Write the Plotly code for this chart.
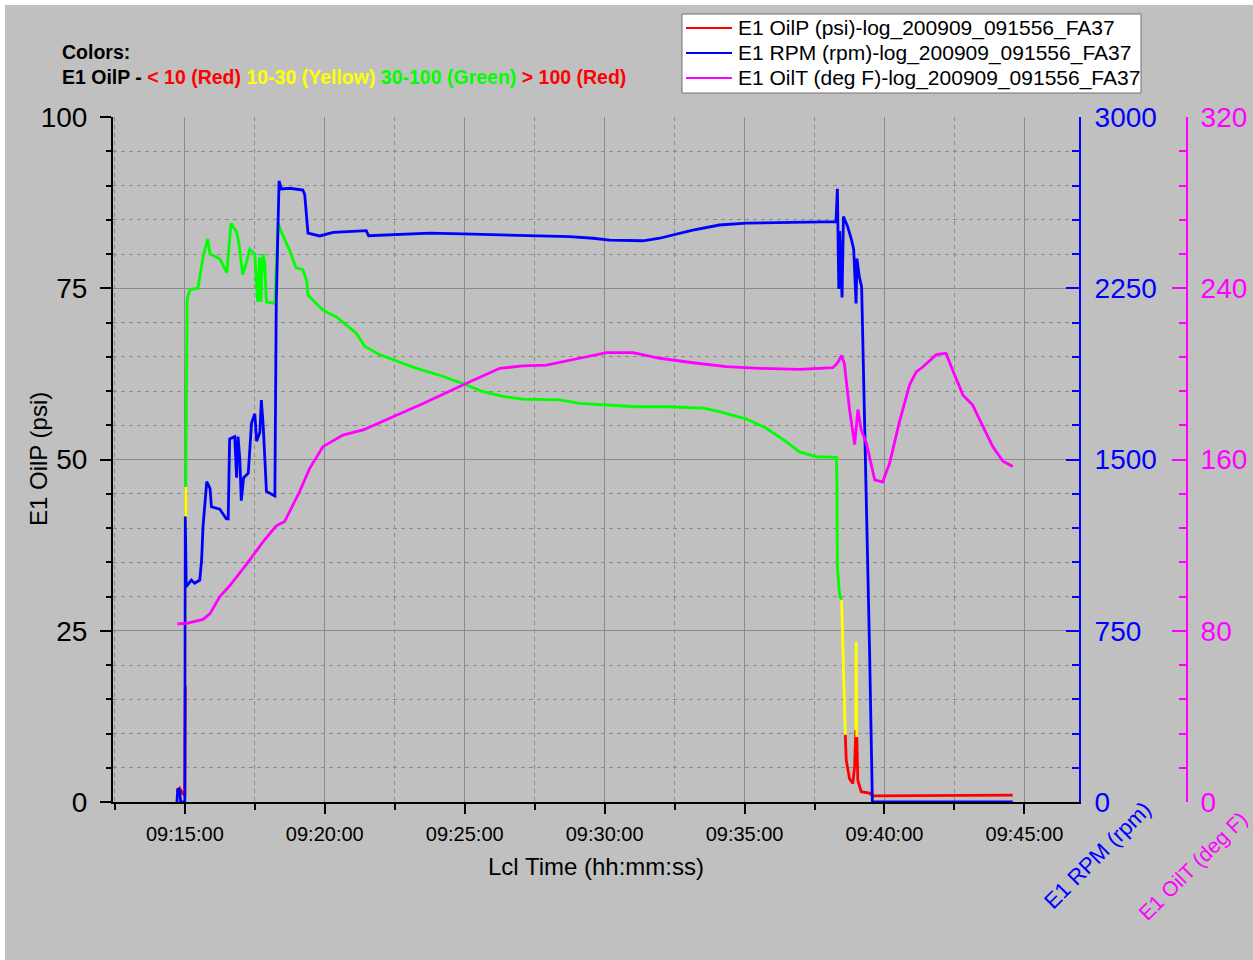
import plotly.graph_objects as go

DATE = "2020-09-09 "

# ---------------- data ----------------
oilp_time = ["09:14:43", "09:14:49", "09:14:56", "09:15:00", "09:15:01", "09:15:02", "09:15:05", "09:15:11",
             "09:15:28", "09:15:39", "09:15:49", "09:15:54", "09:16:15", "09:16:30", "09:16:39", "09:16:51",
             "09:16:56", "09:17:04", "09:17:11", "09:17:19", "09:17:30", "09:17:36", "09:17:40", "09:17:43",
             "09:17:47", "09:17:51", "09:17:55", "09:18:13", "09:18:20", "09:18:27", "09:18:45", "09:18:58",
             "09:19:13", "09:19:21", "09:19:24", "09:19:56", "09:20:25", "09:21:08", "09:21:26", "09:21:58",
             "09:22:34", "09:23:17", "09:24:06", "09:24:56", "09:25:39", "09:26:22", "09:27:05", "09:28:24",
             "09:29:06", "09:30:04", "09:31:08", "09:32:19", "09:33:31", "09:34:06", "09:35:04", "09:35:46",
             "09:36:29", "09:36:58", "09:37:34", "09:38:17", "09:38:18", "09:38:19", "09:38:24", "09:38:28",
             "09:38:36", "09:38:38", "09:38:45", "09:38:52", "09:38:56", "09:38:58", "09:38:58.5", "09:38:59.4",
             "09:39:00.6", "09:39:02.8", "09:39:10", "09:39:28", "09:39:35", "09:42:34", "09:42:48", "09:44:35"]
oilp_psi = [1.5, 2.0, 1.2, 1.0, 17.0, 46.0, 73.5, 74.8, 75.0,
            79.5, 82.2, 80.0, 79.3, 77.3, 84.5, 83.2, 81.5, 77.0, 78.5,
            80.7, 80.0, 73.0, 79.5, 73.0, 80.0, 79.0, 73.0, 72.8, 84.5,
            83.2, 80.5, 78.0, 77.7, 76.2, 74.0, 71.8, 70.8, 68.4, 66.5,
            65.3, 64.4, 63.3, 62.3, 61.1, 59.9, 59.2, 58.8, 58.7, 58.2,
            58.0, 57.7, 57.7, 57.5, 57.0, 55.9, 54.6, 52.6, 51.1, 50.4,
            50.3, 46.0, 34.3, 30.1, 29.5, 9.8, 6.1, 3.4, 2.7, 5.2,
            8.1, 10.5, 23.4, 9.5, 3.2, 1.5, 1.3, 0.9, 0.9, 1.0, 1.0]

rpm_time = ["09:14:43", "09:14:45", "09:14:49", "09:14:51", "09:15:00", "09:15:01", "09:15:03", "09:15:14",
            "09:15:21", "09:15:32", "09:15:36", "09:15:39", "09:15:47", "09:15:54", "09:15:57", "09:16:15",
            "09:16:29", "09:16:33", "09:16:36", "09:16:47", "09:16:51", "09:16:54", "09:16:58", "09:17:01",
            "09:17:06", "09:17:16", "09:17:23", "09:17:30", "09:17:34", "09:17:41", "09:17:44", "09:17:48",
            "09:17:55", "09:18:13", "09:18:16", "09:18:22", "09:18:27", "09:18:45", "09:19:13", "09:19:17",
            "09:19:24", "09:19:49", "09:20:18", "09:21:29", "09:21:34", "09:22:19", "09:23:45", "09:24:56",
            "09:26:30", "09:28:45", "09:29:35", "09:30:11", "09:31:22", "09:31:58", "09:33:09", "09:34:06",
            "09:35:04", "09:36:44", "09:38:16", "09:38:19", "09:38:21", "09:38:22", "09:38:24", "09:38:29",
            "09:38:32", "09:38:41", "09:38:49", "09:38:54", "09:38:59", "09:39:01", "09:39:06", "09:39:11",
            "09:39:28", "09:39:31", "09:39:34", "09:44:35"]
rpm_val = [0, 60, 50, 0, 0, 1250, 943, 972, 958,
           972, 1060, 1206, 1403, 1374, 1293, 1282, 1240, 1240, 1590,
           1600, 1420, 1600, 1500, 1320, 1420, 1440, 1660, 1700, 1580,
           1620, 1760, 1650, 1360, 1340, 2180, 2720, 2685, 2688, 2680,
           2660, 2491, 2479, 2495, 2502, 2480, 2483, 2491, 2488, 2482,
           2476, 2469, 2461, 2458, 2469, 2505, 2527, 2535, 2539, 2542,
           2686, 2300, 2247, 2500, 2210, 2564, 2520, 2464, 2420, 2183,
           2380, 2300, 2256, 666, 267, 0, 0]

oilt_time = ["09:14:44", "09:15:04", "09:15:39", "09:15:54", "09:16:15", "09:16:36", "09:17:12", "09:17:48",
             "09:18:16", "09:18:34", "09:19:06", "09:19:28", "09:19:56", "09:20:39", "09:21:22", "09:22:19",
             "09:23:31", "09:24:56", "09:26:15", "09:27:05", "09:27:55", "09:29:06", "09:30:04", "09:31:01",
             "09:31:58", "09:33:09", "09:34:21", "09:35:32", "09:36:58", "09:38:09", "09:38:19", "09:38:28",
             "09:38:34", "09:38:45", "09:38:56", "09:39:03", "09:39:10", "09:39:21", "09:39:39", "09:39:56",
             "09:40:11", "09:40:32", "09:40:54", "09:41:08", "09:41:22", "09:41:51", "09:42:12", "09:42:26",
             "09:42:48", "09:43:09", "09:43:31", "09:43:52", "09:44:14", "09:44:35"]
oilt_val = [83.2, 83.5, 85.3, 88.0, 96.0, 101.0, 111.0, 121.6, 129.0, 131.0,
            145.0, 156.0, 166.0, 171.4, 173.8, 179.2, 186.2, 194.8, 202.6, 203.7,
            204.1, 207.3, 209.9, 209.9, 207.3, 205.2, 203.4, 202.6, 202.1, 202.9,
            205.0, 208.6, 204.7, 183.4, 167.0, 183.4, 173.8, 167.9, 150.5, 149.5,
            158.3, 177.6, 195.0, 200.9, 203.2, 209.0, 209.6, 201.8, 190.2, 185.4,
            175.7, 166.0, 159.2, 156.7]

series_names = ["E1 OilP (psi)-log_200909_091556_FA37",
                "E1 RPM (rpm)-log_200909_091556_FA37",
                "E1 OilT (deg F)-log_200909_091556_FA37"]

# ---------------- styling ----------------
RED, YELLOW, GREEN = "#ff0000", "#ffff00", "#00ff00"
BLUE, MAGENTA = "#0000ff", "#ff00ff"
BG = "#c0c0c0"
GRID = "#8a8a8a"
DASH = "4px,4px"
FONT = "Arial, Liberation Sans, sans-serif"
LW = 2.8
series_colors = [RED, BLUE, MAGENTA]


def band(v):
    if v < 10:
        return RED
    if v < 30:
        return YELLOW
    if v <= 100:
        return GREEN
    return RED


# split OilP into colour runs (segment colour taken from its start point)
runs = []
start, cur = 0, band(oilp_psi[0])
for i in range(1, len(oilp_psi) - 1):
    c = band(oilp_psi[i])
    if c != cur:
        runs.append((start, i, cur))
        start, cur = i, c
runs.append((start, len(oilp_psi) - 1, cur))

fig = go.Figure()
for s, e, c in runs:
    fig.add_trace(go.Scatter(
        x=[DATE + t for t in oilp_time[s:e + 1]], y=oilp_psi[s:e + 1],
        mode="lines", line=dict(color=c, width=LW),
        name=series_names[0], showlegend=False, yaxis="y"))

fig.add_trace(go.Scatter(x=[DATE + t for t in rpm_time], y=rpm_val, mode="lines",
                         line=dict(color=BLUE, width=LW), name=series_names[1],
                         showlegend=False, yaxis="y2"))
fig.add_trace(go.Scatter(x=[DATE + t for t in oilt_time], y=oilt_val, mode="lines",
                         line=dict(color=MAGENTA, width=LW), name=series_names[2],
                         showlegend=False, yaxis="y3"))

W, H = 1253, 960
L, R, T, B = 113, 66, 117, 158
PW = W - L - R
PH = H - T - B
xdom = (1079 - L) / PW


def px(xp):
    return (xp - L) / PW


def py(yp):
    return (H - B - yp) / PH


fig.update_layout(
    width=W, height=H, autosize=False,
    margin=dict(l=L, r=R, t=T, b=B, pad=0, autoexpand=False),
    paper_bgcolor=BG, plot_bgcolor=BG,
    font=dict(family=FONT, color="black"),
    showlegend=False,
    xaxis=dict(domain=[0, xdom], type="date", automargin=False,
               range=[DATE + "09:12:26", DATE + "09:46:57"],
               tickformat="%H:%M:%S", dtick=300000, tick0=DATE + "09:15:00",
               ticks="outside", ticklen=10, tickwidth=2, tickcolor="black",
               showline=True, linecolor="black", linewidth=2, zeroline=False,
               showgrid=True, gridcolor=GRID, gridwidth=1,
               minor=dict(dtick=150000, tick0=DATE + "09:15:00", ticks="outside", ticklen=6,
                          tickwidth=2, tickcolor="black", showgrid=True,
                          gridcolor=GRID, griddash=DASH, gridwidth=1),
               tickfont=dict(size=20, color="black"), ticklabelstandoff=3,
               title=dict(text="Lcl Time (hh:mm:ss)", font=dict(size=24, color="black"), standoff=14)),
    yaxis=dict(range=[0, 100], dtick=25, tick0=0, automargin=False,
               ticks="outside", ticklen=11, tickwidth=2, tickcolor="black",
               showline=True, linecolor="black", linewidth=2, zeroline=False,
               showgrid=True, gridcolor=GRID, gridwidth=1,
               minor=dict(dtick=5, ticks="outside", ticklen=5, tickwidth=2, tickcolor="black",
                          showgrid=True, gridcolor=GRID, griddash=DASH, gridwidth=1),
               tickfont=dict(size=28, color="black"), ticklabelstandoff=7),
    yaxis2=dict(range=[0, 3000], overlaying="y", side="right", anchor="x", automargin=False,
                dtick=750, tick0=0, ticks="inside", ticklen=13, tickwidth=2, tickcolor=BLUE,
                showline=True, linecolor=BLUE, linewidth=2, zeroline=False, showgrid=False,
                minor=dict(dtick=150, ticks="inside", ticklen=7, tickwidth=2, tickcolor=BLUE),
                tickfont=dict(size=28, color=BLUE), ticklabelstandoff=8),
    yaxis3=dict(range=[0, 320], overlaying="y", side="right", anchor="free", position=1.0,
                automargin=False,
                dtick=80, tick0=0, ticks="inside", ticklen=14, tickwidth=2, tickcolor=MAGENTA,
                showline=True, linecolor=MAGENTA, linewidth=2, zeroline=False, showgrid=False,
                minor=dict(dtick=16, ticks="inside", ticklen=7, tickwidth=2, tickcolor=MAGENTA),
                tickfont=dict(size=28, color=MAGENTA), ticklabelstandoff=7),
)

colors_line = ('<b>E1 OilP - </b>'
               f'<b><span style="color:{RED}">&lt; 10 (Red)</span></b> '
               f'<b><span style="color:{YELLOW}">10-30 (Yellow)</span></b> '
               f'<b><span style="color:{GREEN}">30-100 (Green)</span></b> '
               f'<b><span style="color:{RED}">&gt; 100 (Red)</span></b>')

annotations = [
    dict(text="<b>Colors:</b>", x=px(60), y=py(52), xref="paper", yref="paper",
         xanchor="left", yanchor="middle", showarrow=False, font=dict(size=19.5, color="black")),
    dict(text=colors_line, x=px(60), y=py(77), xref="paper", yref="paper",
         xanchor="left", yanchor="middle", showarrow=False, font=dict(size=19.5, color="black")),
    dict(text="E1 OilP (psi)", x=px(38), y=py(459), xref="paper", yref="paper",
         xanchor="center", yanchor="middle", showarrow=False, textangle=-90,
         font=dict(size=24, color="black")),
    dict(text="E1 RPM (rpm)", x=px(1097), y=py(855), xref="paper", yref="paper",
         xanchor="center", yanchor="middle", showarrow=False, textangle=-45,
         font=dict(size=22, color=BLUE)),
    dict(text="E1 OilT (deg F)", x=px(1192), y=py(866), xref="paper", yref="paper",
         xanchor="center", yanchor="middle", showarrow=False, textangle=-45,
         font=dict(size=21, color=MAGENTA)),
]

# legend box (drawn as shapes + text to match the reference's compact rows)
shapes = [
    dict(type="rect", xref="paper", yref="paper", x0=px(682), x1=px(1141), y0=py(93), y1=py(14),
         fillcolor="white", line=dict(color="#707070", width=1), layer="above"),
]
legend_rows_y = [28, 53, 78]
for name, col, ry in zip(series_names, series_colors, legend_rows_y):
    shapes.append(dict(type="line", xref="paper", yref="paper", x0=px(686), x1=px(732),
                       y0=py(ry), y1=py(ry), line=dict(color=col, width=2), layer="above"))
    annotations.append(dict(text=name, x=px(736), y=py(ry), xref="paper", yref="paper",
                            xanchor="left", yanchor="middle", showarrow=False,
                            font=dict(size=21, color="black")))

# thin white border at the top and left of the page, like the reference
shapes += [
    dict(type="rect", xref="paper", yref="paper", x0=px(-20), x1=px(W + 20), y0=py(5), y1=py(-20),
         fillcolor="white", line=dict(width=0), layer="above"),
    dict(type="rect", xref="paper", yref="paper", x0=px(-20), x1=px(5), y0=py(H + 20), y1=py(-20),
         fillcolor="white", line=dict(width=0), layer="above"),
]

fig.update_layout(annotations=annotations, shapes=shapes)

fig.write_html("out.html")
